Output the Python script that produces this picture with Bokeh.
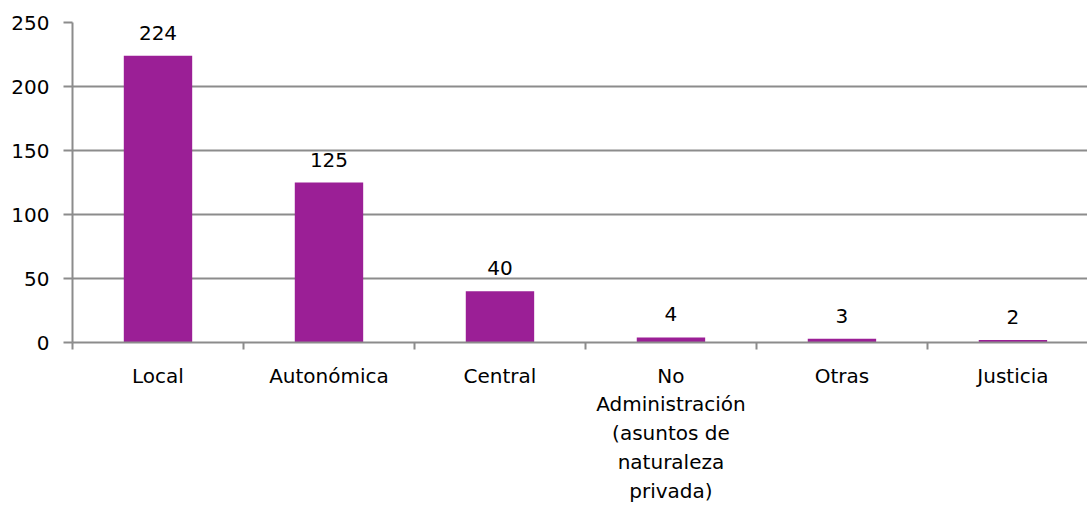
from bokeh.plotting import figure
from bokeh.models import ColumnDataSource, Range1d, FixedTicker, LabelSet
from bokeh.core.properties import value
from bokeh.embed import file_html
from bokeh.resources import INLINE

categories = ["Local", "Autonómica", "Central",
              "No\nAdministración\n(asuntos de\nnaturaleza\nprivada)",
              "Otras", "Justicia"]
values = [224, 125, 40, 4, 3, 2]
y_ticks = [0, 50, 100, 150, 200, 250]

FONT = "DejaVu Sans"
GRID = "#8c8c8c"
BAR = "#9b1f96"

xs = [i + 0.5 for i in range(len(categories))]
src = ColumnDataSource(dict(x=xs, top=values, lab=[str(v) for v in values]))

p = figure(width=1087, height=505, output_backend="svg", toolbar_location=None,
           x_range=Range1d(0, 5.936), y_range=Range1d(0, 250),
           min_border_left=72, min_border_right=0, min_border_top=22,
           min_border_bottom=162)
p.outline_line_color = None
p.background_fill_color = "white"

p.vbar(x="x", top="top", width=0.4, bottom=0, source=src, fill_color=BAR,
       line_color=None)

labels = LabelSet(x="x", y="top", text="lab", source=src, text_align="center",
                  text_baseline="alphabetic", y_offset=16, text_font=value(FONT),
                  text_font_size="20px", text_color="black")
p.add_layout(labels)

# x axis
p.xaxis.ticker = FixedTicker(ticks=xs, minor_ticks=list(range(len(categories) + 1)))
p.xaxis.major_label_overrides = {x: c for x, c in zip(xs, categories)}
p.xaxis.major_tick_out = 0
p.xaxis.major_tick_in = 0
p.xaxis.minor_tick_out = 7
p.xaxis.minor_tick_in = 0
p.xaxis.minor_tick_line_color = GRID
p.xaxis.minor_tick_line_width = 2
p.xaxis.axis_line_color = GRID
p.xaxis.axis_line_width = 2
p.xaxis.major_label_text_font = FONT
p.xaxis.major_label_text_font_size = "20px"
p.xaxis.major_label_text_color = "black"
p.xaxis.major_label_text_line_height = 1.2
p.xaxis.major_label_standoff = 14

# y axis
p.yaxis.ticker = FixedTicker(ticks=y_ticks)
p.yaxis.major_tick_out = 9
p.yaxis.major_tick_in = 0
p.yaxis.minor_tick_line_color = None
p.yaxis.major_tick_line_color = GRID
p.yaxis.major_tick_line_width = 2
p.yaxis.axis_line_color = GRID
p.yaxis.axis_line_width = 2
p.yaxis.major_label_text_font = FONT
p.yaxis.major_label_text_font_size = "20px"
p.yaxis.major_label_text_color = "black"
p.yaxis.major_label_standoff = 14

p.xgrid.grid_line_color = None
p.ygrid.ticker = FixedTicker(ticks=y_ticks)
p.ygrid.grid_line_color = GRID
p.ygrid.grid_line_width = 2

open("out.html", "w").write(file_html(p, INLINE))
